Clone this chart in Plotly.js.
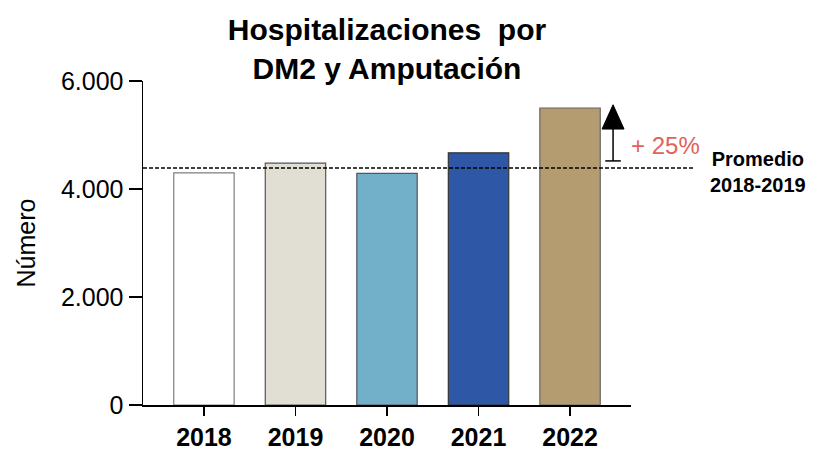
<!DOCTYPE html>
<html>
<head>
<meta charset="utf-8">
<script src="https://cdn.plot.ly/plotly-3.0.1.min.js"></script>
<style>html,body{margin:0;padding:0;background:#fff;}#chart{width:816px;height:455px;}</style>
</head>
<body>
<div id="chart"></div>
<script>
const years = ['2018', '2019', '2020', '2021', '2022'];
const hospitalizaciones = [4300, 4480, 4290, 4670, 5500];
const barColors = ['#FFFFFF', '#E1DED3', '#72AFC8', '#2E58A5', '#B59C70'];
const barLineColors = ['#7F7F7F', '#555555', '#555555', '#333333', '#666666'];
const yTickVals = [0, 2000, 4000, 6000];
const arrowRange = [4520, 5560];
const percentLabel = '+ 25%';
const promedioLabel = 'Promedio<br>2018-2019';

const promedio = (hospitalizaciones[0] + hospitalizaciones[1]) / 2;
const FONT = 'Liberation Sans, Arial, sans-serif';

const trace = {
  type: 'bar',
  x: years,
  y: hospitalizaciones,
  width: 0.66,
  marker: { color: barColors, line: { color: barLineColors, width: 1.2 } },
  hoverinfo: 'x+y'
};

const arrowX = 4.47;
const layout = {
  width: 816, height: 455,
  margin: { l: 143, r: 185, t: 81, b: 50 },
  paper_bgcolor: '#fff', plot_bgcolor: '#fff',
  separators: ',.',
  font: { family: FONT, color: '#000' },
  showlegend: false,
  title: {
    text: '<b>Hospitalizaciones  por<br>DM2 y Amputación</b>',
    font: { family: FONT, size: 30, color: '#000' },
    x: 0.5, xref: 'paper', xanchor: 'center', y: 0.912, yanchor: 'middle'
  },
  xaxis: {
    type: 'category',
    range: [-0.666, 4.666],
    showline: true, linecolor: '#000', linewidth: 1.5,
    ticks: 'outside', ticklen: 9, tickwidth: 1.5, tickcolor: '#000',
    tickfont: { family: FONT, size: 25, color: '#000', weight: 'bold' },
    showgrid: false, zeroline: false
  },
  yaxis: {
    range: [0, 6000],
    tickvals: yTickVals,
    tickformat: ',d',
    showline: true, linecolor: '#000', linewidth: 1.5,
    ticks: 'outside', ticklen: 13, tickwidth: 1.5, tickcolor: '#000',
    tickfont: { family: FONT, size: 25, color: '#000' },
    showgrid: false, zeroline: false,
    title: { text: 'Número', font: { family: FONT, size: 25, color: '#000' }, standoff: 18 }
  },
  shapes: [
    { type: 'line', xref: 'paper', yref: 'y', x0: 0, x1: 1.131, y0: promedio, y1: promedio,
      line: { color: '#000', width: 1.5, dash: '4px,2px' } },
    { type: 'line', xref: 'x', yref: 'y', x0: arrowX, x1: arrowX, y0: arrowRange[0], y1: arrowRange[1] - 400,
      line: { color: '#000', width: 1.5 } },
    { type: 'line', xref: 'x', yref: 'y', x0: arrowX - 0.085, x1: arrowX + 0.085, y0: arrowRange[0], y1: arrowRange[0],
      line: { color: '#000', width: 1.5 } },
    { type: 'path', xref: 'x', yref: 'y',
      path: `M ${arrowX - 0.12} ${arrowRange[1] - 450} L ${arrowX + 0.12} ${arrowRange[1] - 450} L ${arrowX} ${arrowRange[1]} Z`,
      fillcolor: '#000', line: { color: '#000', width: 1 } }
  ],
  annotations: [
    { text: percentLabel, xref: 'paper', yref: 'paper', x: 1.07, y: 0.80, xanchor: 'center', yanchor: 'middle',
      showarrow: false, font: { family: FONT, size: 24, color: '#E0625A' } },
    { text: '<b>' + promedioLabel + '</b>', xref: 'paper', yref: 'paper', x: 1.26, y: 0.72, xanchor: 'center', yanchor: 'middle',
      showarrow: false, align: 'center', font: { family: FONT, size: 20, color: '#000' } }
  ]
};

Plotly.newPlot('chart', [trace], layout, { displayModeBar: false, staticPlot: true });
</script>
</body>
</html>
